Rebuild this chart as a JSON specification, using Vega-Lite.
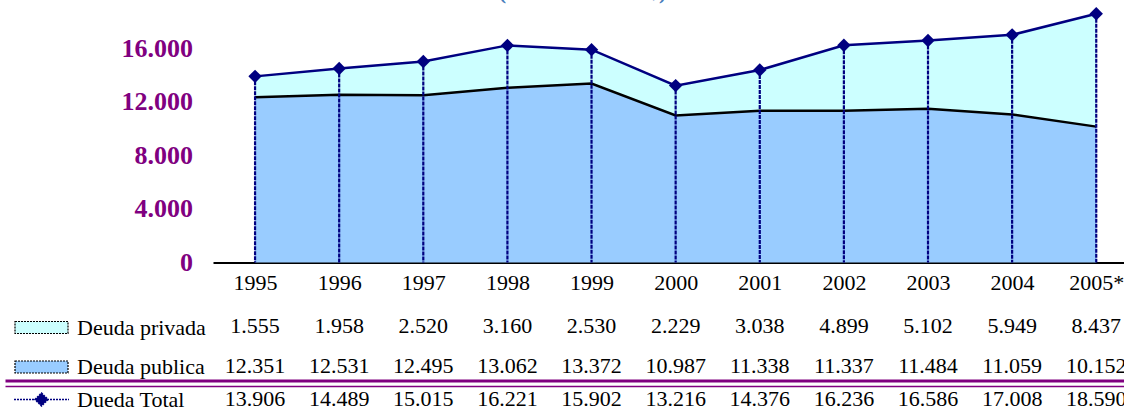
{
  "$schema": "https://vega.github.io/schema/vega-lite/v6.json",
  "autosize": {"type": "none"},
  "width": 911,
  "height": 261,
  "padding": {"left": 213, "top": 1.5, "right": 0, "bottom": 149.5},
  "background": "white",
  "config": {
    "locale": {"number": {"decimal": ",", "thousands": ".", "grouping": [3], "currency": ["", ""]}},
    "view": {"stroke": null},
    "font": "Liberation Serif"
  },
  "title": {
    "text": "(Millones de US$)",
    "font": "Liberation Serif",
    "fontSize": 22,
    "fontWeight": "bold",
    "color": "#4a7ebb",
    "anchor": "middle",
    "dx": -86,
    "baseline": "top",
    "offset": -2.5
  },
  "datasets": {
    "d": [
      {"year": 1995, "serie": "Deuda privada", "value": 1555},
      {"year": 1996, "serie": "Deuda privada", "value": 1958},
      {"year": 1997, "serie": "Deuda privada", "value": 2520},
      {"year": 1998, "serie": "Deuda privada", "value": 3160},
      {"year": 1999, "serie": "Deuda privada", "value": 2530},
      {"year": 2000, "serie": "Deuda privada", "value": 2229},
      {"year": 2001, "serie": "Deuda privada", "value": 3038},
      {"year": 2002, "serie": "Deuda privada", "value": 4899},
      {"year": 2003, "serie": "Deuda privada", "value": 5102},
      {"year": 2004, "serie": "Deuda privada", "value": 5949},
      {"year": 2005, "serie": "Deuda privada", "value": 8437},
      {"year": 1995, "serie": "Deuda publica", "value": 12351},
      {"year": 1996, "serie": "Deuda publica", "value": 12531},
      {"year": 1997, "serie": "Deuda publica", "value": 12495},
      {"year": 1998, "serie": "Deuda publica", "value": 13062},
      {"year": 1999, "serie": "Deuda publica", "value": 13372},
      {"year": 2000, "serie": "Deuda publica", "value": 10987},
      {"year": 2001, "serie": "Deuda publica", "value": 11338},
      {"year": 2002, "serie": "Deuda publica", "value": 11337},
      {"year": 2003, "serie": "Deuda publica", "value": 11484},
      {"year": 2004, "serie": "Deuda publica", "value": 11059},
      {"year": 2005, "serie": "Deuda publica", "value": 10152},
      {"year": 1995, "serie": "Dueda Total", "value": 13906},
      {"year": 1996, "serie": "Dueda Total", "value": 14489},
      {"year": 1997, "serie": "Dueda Total", "value": 15015},
      {"year": 1998, "serie": "Dueda Total", "value": 16221},
      {"year": 1999, "serie": "Dueda Total", "value": 15902},
      {"year": 2000, "serie": "Dueda Total", "value": 13216},
      {"year": 2001, "serie": "Dueda Total", "value": 14376},
      {"year": 2002, "serie": "Dueda Total", "value": 16236},
      {"year": 2003, "serie": "Dueda Total", "value": 16586},
      {"year": 2004, "serie": "Dueda Total", "value": 17008},
      {"year": 2005, "serie": "Dueda Total", "value": 18590}
    ]
  },
  "data": {"name": "d"},
  "layer": [
    {
      "layer": [
        {
          "transform": [{"filter": "datum.serie !== 'Dueda Total'"}],
          "mark": {"type": "area", "opacity": 1},
          "encoding": {
            "x": {
              "field": "year", "type": "quantitative",
              "scale": {"domain": [1994.5, 2005.33], "nice": false, "zero": false},
              "axis": {
                "orient": "bottom", "title": null, "values": [1995, 1996, 1997, 1998, 1999, 2000, 2001, 2002, 2003, 2004, 2005],
                "format": "d", "labelExpr": "datum.value === 2005 ? '2005*' : datum.label",
                "labelFont": "Liberation Serif", "labelFontSize": 22, "labelColor": "black",
                "labelPadding": 10, "labelFlush": false, "labelOverlap": false,
                "ticks": false, "grid": false, "domainColor": "black", "domainWidth": 2
              }
            },
            "y": {
              "field": "value", "type": "quantitative", "stack": "zero",
              "scale": {"domain": [0, 19500], "nice": false},
              "axis": {
                "title": null, "values": [0, 4000, 8000, 12000, 16000], "format": ",d",
                "labelFont": "Liberation Serif", "labelFontSize": 26, "labelFontWeight": "bold",
                "labelColor": "#800080", "labelPadding": 20.5, "labelFlush": false,
                "ticks": false, "grid": false, "domain": false
              }
            },
            "fill": {
              "field": "serie", "type": "nominal",
              "scale": {"domain": ["Deuda privada", "Deuda publica"], "range": ["#ccffff", "#99ccff"]},
              "legend": {
                "orient": "none", "legendX": -199, "legendY": 312, "title": null,
                "symbolType": "M-1,-0.226H1V0.226H-1Z", "symbolSize": 2809,
                "symbolStrokeColor": "black", "symbolStrokeWidth": 1.2, "symbolDash": [2, 1],
                "clipHeight": 28, "rowPadding": 11.5, "padding": 0,
                "labelFont": "Liberation Serif", "labelFontSize": 22, "labelColor": "black",
                "labelOffset": 8, "labelLimit": 300,
                "encode": {"symbols": {
                  "enter": {"stroke": {"value": "black"}, "strokeWidth": {"value": 1.2}, "strokeDash": {"value": [2, 1]}},
                  "update": {"stroke": {"value": "black"}, "strokeWidth": {"value": 1.2}, "strokeDash": {"value": [2, 1]}, "opacity": {"value": 1}, "strokeOpacity": {"value": 1}}
                }}
              }
            },
            "order": {"field": "serie", "sort": "descending"}
          }
        },
        {
          "transform": [{"filter": "datum.serie === 'Deuda publica'"}],
          "mark": {"type": "line", "color": "black", "strokeWidth": 2.5},
          "encoding": {
            "x": {"field": "year", "type": "quantitative"},
            "y": {"field": "value", "type": "quantitative"}
          }
        },
        {
          "transform": [{"filter": "datum.serie === 'Dueda Total'"}],
          "mark": {"type": "rule", "color": "#000080", "strokeWidth": 2.2, "strokeDash": [4, 1]},
          "encoding": {
            "x": {"field": "year", "type": "quantitative"},
            "y": {"field": "value", "type": "quantitative"},
            "y2": {"datum": 0}
          }
        },
        {
          "transform": [{"filter": "datum.serie === 'Dueda Total'"}],
          "mark": {"type": "line", "strokeWidth": 2.5},
          "encoding": {
            "x": {"field": "year", "type": "quantitative"},
            "y": {"field": "value", "type": "quantitative"},
            "stroke": {
              "field": "serie", "type": "nominal",
              "scale": {"domain": ["Dueda Total"], "range": ["#000080"]},
              "legend": {
                "orient": "none", "legendX": -200, "legendY": 384, "title": null,
                "symbolType": "M-1,0H1M-0.236,0L0,-0.236L0.236,0L0,0.236Z", "symbolSize": 3025,
                "clipHeight": 28, "padding": 0,
                "labelFont": "Liberation Serif", "labelFontSize": 22, "labelColor": "black",
                "labelOffset": 7, "labelLimit": 300,
                "encode": {"symbols": {"update": {"fill": {"value": "#000080"}, "stroke": {"value": "#000080"}, "strokeWidth": {"value": 1.5}, "strokeDash": {"value": [2, 1]}, "opacity": {"value": 1}}}}
              }
            }
          }
        },
        {
          "transform": [{"filter": "datum.serie === 'Dueda Total'"}],
          "mark": {"type": "point", "shape": "diamond", "filled": true, "size": 180, "color": "#000080", "opacity": 1},
          "encoding": {
            "x": {"field": "year", "type": "quantitative"},
            "y": {"field": "value", "type": "quantitative"}
          }
        }
      ]
    },
    {
      "transform": [{"filter": "datum.serie !== 'Dueda Total'"}],
      "mark": {"type": "text", "font": "Liberation Serif", "fontSize": 22, "color": "black", "align": "center", "baseline": "alphabetic"},
      "encoding": {
        "x": {
          "field": "year", "type": "quantitative",
          "scale": {"domain": [1992.027, 2005.33], "range": [-208, 911], "nice": false, "zero": false},
          "axis": {"orient": "bottom", "offset": 118, "title": null, "labels": false, "ticks": false, "grid": false, "domainColor": "#800080", "domainWidth": 3}
        },
        "y": {
          "field": "serie", "type": "nominal",
          "scale": {"type": "point", "domain": ["Deuda privada", "Deuda publica"], "range": [331.5, 371.5], "padding": 0},
          "axis": null
        },
        "text": {"field": "value", "type": "quantitative", "format": ",d"}
      }
    },
    {
      "transform": [{"filter": "datum.serie === 'Dueda Total'"}],
      "mark": {"type": "text", "font": "Liberation Serif", "fontSize": 22, "color": "black", "align": "center", "baseline": "alphabetic"},
      "encoding": {
        "x": {
          "field": "year", "type": "quantitative",
          "scale": {"domain": [1992.027, 2005.33], "range": [-208, 911], "nice": false, "zero": false},
          "axis": {"orient": "bottom", "offset": 123.5, "title": null, "labels": false, "ticks": false, "grid": false, "domainColor": "#800080", "domainWidth": 1.5}
        },
        "y": {
          "field": "serie", "type": "nominal",
          "scale": {"type": "point", "domain": ["Dueda Total"], "range": [404.5, 404.5], "padding": 0},
          "axis": null
        },
        "text": {"field": "value", "type": "quantitative", "format": ",d"}
      }
    }
  ],
  "resolve": {"scale": {"x": "independent", "y": "independent"}}
}
